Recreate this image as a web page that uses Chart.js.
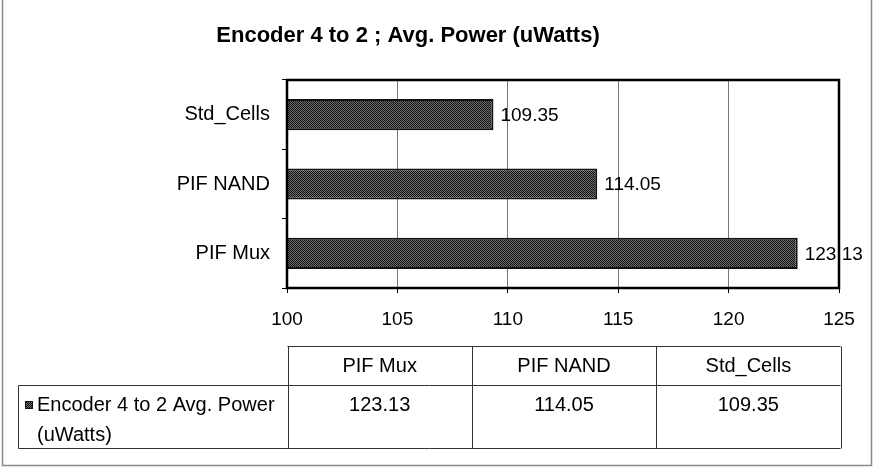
<!DOCTYPE html>
<html>
<head>
<meta charset="utf-8">
<title>Encoder 4 to 2 ; Avg. Power (uWatts)</title>
<script src="https://cdn.jsdelivr.net/npm/chart.js@4.4.1/dist/chart.umd.min.js"></script>
<style>
  html, body { margin: 0; padding: 0; background: #fff; }
  canvas { display: block; }
</style>
</head>
<body>
<canvas id="powerChart" width="878" height="476"></canvas>
<script>
const chartTitle = "Encoder 4 to 2 ; Avg. Power (uWatts)";
const seriesName = "Encoder 4 to 2 Avg. Power (uWatts)";
const categories = ["PIF Mux", "PIF NAND", "Std_Cells"];
const powerValues = [123.13, 114.05, 109.35];
const xTicks = [100, 105, 110, 115, 120, 125];

const FONT = "'Liberation Sans', Arial, sans-serif";

document.addEventListener("DOMContentLoaded", () => {
    const ctx = document.getElementById("powerChart").getContext("2d");

    // fine dotted fill like the old Excel pattern
    function makeDots() {
        const c = document.createElement("canvas");
        c.width = 2; c.height = 2;
        const g = c.getContext("2d");
        g.fillStyle = "#727272";
        g.fillRect(0, 0, 2, 2);
        g.fillStyle = "#0d0d0d";
        g.fillRect(0, 0, 1, 1);
        g.fillRect(1, 1, 1, 1);
        return g.createPattern(c, "repeat");
    }
    const dots = makeDots();

    const titlePlugin = {
        id: "titleText",
        afterDraw(chart) {
            const g = chart.ctx;
            g.save();
            g.fillStyle = "#000";
            g.font = "bold 22px " + FONT;
            g.textAlign = "center";
            g.textBaseline = "middle";
            g.fillText(chartTitle, 408, 36);
            g.restore();
        }
    };

    const valueLabels = {
        id: "valueLabels",
        afterDatasetsDraw(chart) {
            const g = chart.ctx;
            const meta = chart.getDatasetMeta(0);
            g.save();
            g.fillStyle = "#000";
            g.font = "19px " + FONT;
            g.textAlign = "left";
            g.textBaseline = "middle";
            meta.data.forEach((bar, i) => {
                g.fillText(powerValues[i].toFixed(2), bar.x + 7, bar.y + 1);
            });
            g.restore();
        }
    };

    const frames = {
        id: "frames",
        afterDraw(chart) {
            const g = chart.ctx;
            const a = chart.chartArea;
            g.save();
            g.strokeStyle = "#000";
            g.lineWidth = 2.5;
            g.strokeRect(a.left, a.top, a.right - a.left, a.bottom - a.top);

            g.strokeStyle = "#8a8a8a";
            g.lineWidth = 1.5;
            g.beginPath();
            g.moveTo(2.5, 0);
            g.lineTo(2.5, 465.5);
            g.lineTo(871.5, 465.5);
            g.lineTo(871.5, 0);
            g.stroke();
            g.restore();
        }
    };

    const dataTable = {
        id: "dataTable",
        afterDraw(chart) {
            const g = chart.ctx;
            const a = chart.chartArea;
            const left = Math.round(a.left) + 0.5;
            const right = Math.round(a.right) + 1.5;
            const top = 346.5, mid = 385.5, bottom = 448.5;
            const legendLeft = 18.5;
            const colW = (right - left) / categories.length;

            g.save();
            g.strokeStyle = "#333";
            g.lineWidth = 1;
            g.beginPath();
            g.moveTo(left, top); g.lineTo(right, top);
            g.moveTo(legendLeft, mid); g.lineTo(right, mid);
            g.moveTo(legendLeft, bottom); g.lineTo(right, bottom);
            g.moveTo(legendLeft, mid); g.lineTo(legendLeft, bottom);
            for (let i = 0; i <= categories.length; i++) {
                const x = Math.round(left + colW * i) + 0.5;
                g.moveTo(x, top); g.lineTo(x, bottom);
            }
            g.stroke();

            g.fillStyle = "#000";
            g.font = "20px " + FONT;
            g.textAlign = "center";
            g.textBaseline = "middle";
            categories.forEach((name, i) => {
                const cx = left + colW * (i + 0.5);
                g.fillText(name, cx, 366);
                g.fillText(powerValues[i].toFixed(2), cx, 405);
            });

            // legend key + wrapped series name
            g.fillStyle = dots;
            g.fillRect(25, 401, 8, 8);
            g.strokeStyle = "#111";
            g.strokeRect(25.5, 401.5, 7, 7);

            g.fillStyle = "#000";
            g.textAlign = "left";
            const maxW = left - 37 - 4;
            const words = seriesName.split(" ");
            const lines = [];
            let line = "";
            words.forEach(w => {
                const test = line ? line + " " + w : w;
                if (g.measureText(test).width > maxW && line) {
                    lines.push(line);
                    line = w;
                } else {
                    line = test;
                }
            });
            lines.push(line);
            lines.forEach((l, i) => g.fillText(l, 37, 405 + i * 30));
            g.restore();
        }
    };

    new Chart(ctx, {
        type: "bar",
        data: {
            labels: categories,
            datasets: [{
                label: seriesName,
                data: powerValues,
                backgroundColor: dots,
                borderColor: "#111",
                borderWidth: 2,
                borderSkipped: false,
                categoryPercentage: 1,
                barPercentage: 0.45
            }]
        },
        options: {
            indexAxis: "y",
            responsive: false,
            animation: false,
            layout: { padding: { top: 80, right: 39, bottom: 146, left: 0 } },
            plugins: {
                legend: { display: false },
                title: { display: false },
                tooltip: { enabled: false }
            },
            scales: {
                x: {
                    min: 100,
                    max: 125,
                    afterBuildTicks: (scale) => {
                        scale.ticks = xTicks.map(v => ({ value: v }));
                    },
                    afterFit: (scale) => { scale.height = 42; },
                    grid: { color: "#777", tickColor: "#000", tickLength: 5, lineWidth: 1 },
                    border: { display: false },
                    ticks: { color: "#000", font: { family: FONT, size: 19 }, padding: 15, maxRotation: 0 }
                },
                y: {
                    reverse: true,
                    afterFit: (scale) => { scale.width = 287; },
                    grid: { offset: true, drawOnChartArea: false, color: "#000", tickLength: 5 },
                    border: { display: false },
                    ticks: { color: "#000", font: { family: FONT, size: 20 }, padding: 12 }
                }
            }
        },
        plugins: [valueLabels, frames, dataTable, titlePlugin]
    });
});
</script>
</body>
</html>
